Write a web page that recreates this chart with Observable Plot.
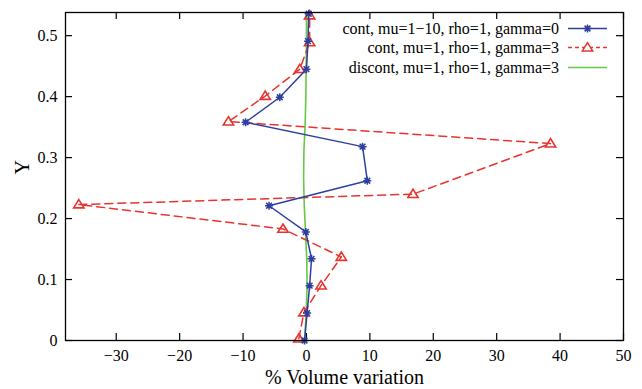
<!DOCTYPE html>
<html><head><meta charset="utf-8">
<script src="https://cdn.jsdelivr.net/npm/d3@7"></script>
<script src="https://cdn.jsdelivr.net/npm/@observablehq/plot@0.6"></script>
<style>
html,body{margin:0;padding:0;background:#fff;font-family:"Liberation Serif","DejaVu Serif",serif;}
#wrap{position:relative;width:642px;height:389px;}
#wrap svg, #wrap text{font-family:"Liberation Serif","DejaVu Serif",serif !important;}
#legend{position:absolute;left:0;top:0;pointer-events:none;}
</style></head><body><div id="wrap"></div>
<script>
// Series 1: cont, mu=1-10, rho=1, gamma=0 (blue, asterisks)
const blueY = [0, 0.045, 0.090, 0.134, 0.178, 0.221, 0.262, 0.318, 0.358, 0.399, 0.445, 0.491, 0.536];
const blueX = [-0.3, 0.1, 0.5, 0.8, -0.1, -5.9, 9.6, 8.85, -9.6, -4.2, 0.0, 0.25, 0.35];
// Series 2: cont, mu=1, rho=1, gamma=3 (red, dashed, triangles)
const redY = [0.003, 0.046, 0.090, 0.137, 0.183, 0.223, 0.240, 0.323, 0.359, 0.401, 0.445, 0.489, 0.533];
const redX = [-1.2, -0.4, 2.3, 5.5, -3.7, -35.9, 16.8, 38.5, -12.3, -6.5, -1.05, 0.5, 0.5];
// Series 3: discont, mu=1, rho=1, gamma=3 (green line)
const greenY = [0, 0.044, 0.089, 0.133, 0.178, 0.222, 0.267, 0.311, 0.356, 0.400, 0.445, 0.489, 0.538];
const greenX = [-0.3, -0.05, 0.1, 0.05, -0.15, -0.35, -0.45, -0.4, -0.2, -0.1, -0.05, 0.0, 0.0];

const seriesNames = ["cont, mu=1\u221210, rho=1, gamma=0", "cont, mu=1, rho=1, gamma=3", "discont, mu=1, rho=1, gamma=3"];
const xTicks = [-30, -20, -10, 0, 10, 20, 30, 40, 50];
const yTicks = [0, 0.1, 0.2, 0.3, 0.4, 0.5];
const xLabel = "% Volume variation";
const yLabel = "Y";

const BLUE = "#2d3f9e", RED = "#e8332e", GREEN = "#66c944";
const FONT = "\"Liberation Serif\", \"DejaVu Serif\", serif";

const blue = blueX.map((x, i) => ({x, y: blueY[i]}));
const red = redX.map((x, i) => ({x, y: redY[i]}));
const green = greenX.map((x, i) => ({x, y: greenY[i]}));

// gnuplot-style point symbols
const starSymbol = {draw(ctx, size) {
  const r = Math.sqrt(size / Math.PI);
  ctx.moveTo(-r, 0); ctx.lineTo(r, 0);
  ctx.moveTo(0, -r); ctx.lineTo(0, r);
  const d = r * 0.72;
  ctx.moveTo(-d, -d); ctx.lineTo(d, d);
  ctx.moveTo(-d, d); ctx.lineTo(d, -d);
}};
const triSymbol = {draw(ctx, size) {
  const r = Math.sqrt(size / Math.PI);
  ctx.moveTo(0, -1.1 * r);
  ctx.lineTo(1.15 * r, 0.75 * r);
  ctx.lineTo(-1.15 * r, 0.75 * r);
  ctx.closePath();
}};

const W = 642, H = 389, mL = 65, mR = 19, mT = 12, mB = 49;
const innerW = W - mL - mR, innerH = H - mT - mB;
const tick = 7;

const plot = Plot.plot({
  width: W, height: H,
  marginLeft: mL, marginRight: mR, marginTop: mT, marginBottom: mB,
  style: {fontFamily: FONT, fontSize: "16px", color: "black", background: "white"},
  x: {domain: [-38, 50]},
  y: {domain: [0, 0.538]},
  marks: [
    // inward ticks on all four sides
    Plot.ruleX(xTicks, {stroke: "black", strokeWidth: 1.2, insetTop: innerH - tick}),
    Plot.ruleX(xTicks, {stroke: "black", strokeWidth: 1.2, insetBottom: innerH - tick}),
    Plot.ruleY(yTicks, {stroke: "black", strokeWidth: 1.2, insetRight: innerW - tick}),
    Plot.ruleY(yTicks, {stroke: "black", strokeWidth: 1.2, insetLeft: innerW - tick}),
    Plot.axisX(xTicks, {tickSize: 0, tickPadding: 9, label: null, fontSize: 16, fontFamily: FONT,
      tickFormat: d => d < 0 ? "\u2212" + (-d) : String(d)}),
    Plot.axisY(yTicks, {tickSize: 0, tickPadding: 8, label: null, fontSize: 16, fontFamily: FONT,
      tickFormat: d => d === 0 ? "0" : String(d)}),
    Plot.text([xLabel], {frameAnchor: "bottom", dy: 43, text: d => d, fontSize: 20, fontFamily: FONT, fill: "black"}),
    Plot.text([yLabel], {frameAnchor: "left", dx: -43, dy: -2, rotate: -90, text: d => d, fontSize: 20, fontFamily: FONT, fill: "black"}),
    // data
    Plot.line(green, {x: "x", y: "y", stroke: GREEN, strokeWidth: 1.6}),
    Plot.line(red, {x: "x", y: "y", stroke: RED, strokeWidth: 1.5, strokeDasharray: "8,5"}),
    Plot.dot(red, {x: "x", y: "y", symbol: triSymbol, r: 4.5, stroke: RED, strokeWidth: 1.6, fill: "none"}),
    Plot.line(blue, {x: "x", y: "y", stroke: BLUE, strokeWidth: 1.5}),
    Plot.dot(blue, {x: "x", y: "y", symbol: starSymbol, r: 4, stroke: BLUE, strokeWidth: 1.5, fill: "none"}),
    Plot.frame({stroke: "black", strokeWidth: 1.3})
  ]
});

const wrap = document.getElementById("wrap");
wrap.appendChild(plot);

// legend overlay (inside top-right of the frame)
const leg = d3.select(wrap).append("svg").attr("id", "legend")
  .attr("width", W).attr("height", H);
const legRows = [
  {name: seriesNames[0], color: BLUE, dash: null, sym: starSymbol, r: 4, y: 28.5},
  {name: seriesNames[1], color: RED, dash: "4,3", sym: triSymbol, r: 4.5, y: 47.5},
  {name: seriesNames[2], color: GREEN, dash: null, sym: null, r: 0, y: 67.5}
];
const textRight = 559, lineX1 = 568, lineX2 = 607;
legRows.forEach(row => {
  leg.append("text").attr("x", textRight).attr("y", row.y)
    .attr("text-anchor", "end").attr("dominant-baseline", "central")
    .attr("font-family", FONT)
    .attr("font-size", 16).attr("fill", "black").text(row.name);
  leg.append("line").attr("x1", lineX1).attr("x2", lineX2).attr("y1", row.y).attr("y2", row.y)
    .attr("stroke", row.color).attr("stroke-width", 1.5)
    .attr("stroke-dasharray", row.dash);
  if (row.sym) {
    leg.append("path").attr("transform", `translate(${(lineX1 + lineX2) / 2},${row.y})`)
      .attr("d", d3.symbol(row.sym, row.r * row.r * Math.PI)())
      .attr("stroke", row.color).attr("stroke-width", 1.5).attr("fill", "white");
  }
});
</script>
</body></html>
